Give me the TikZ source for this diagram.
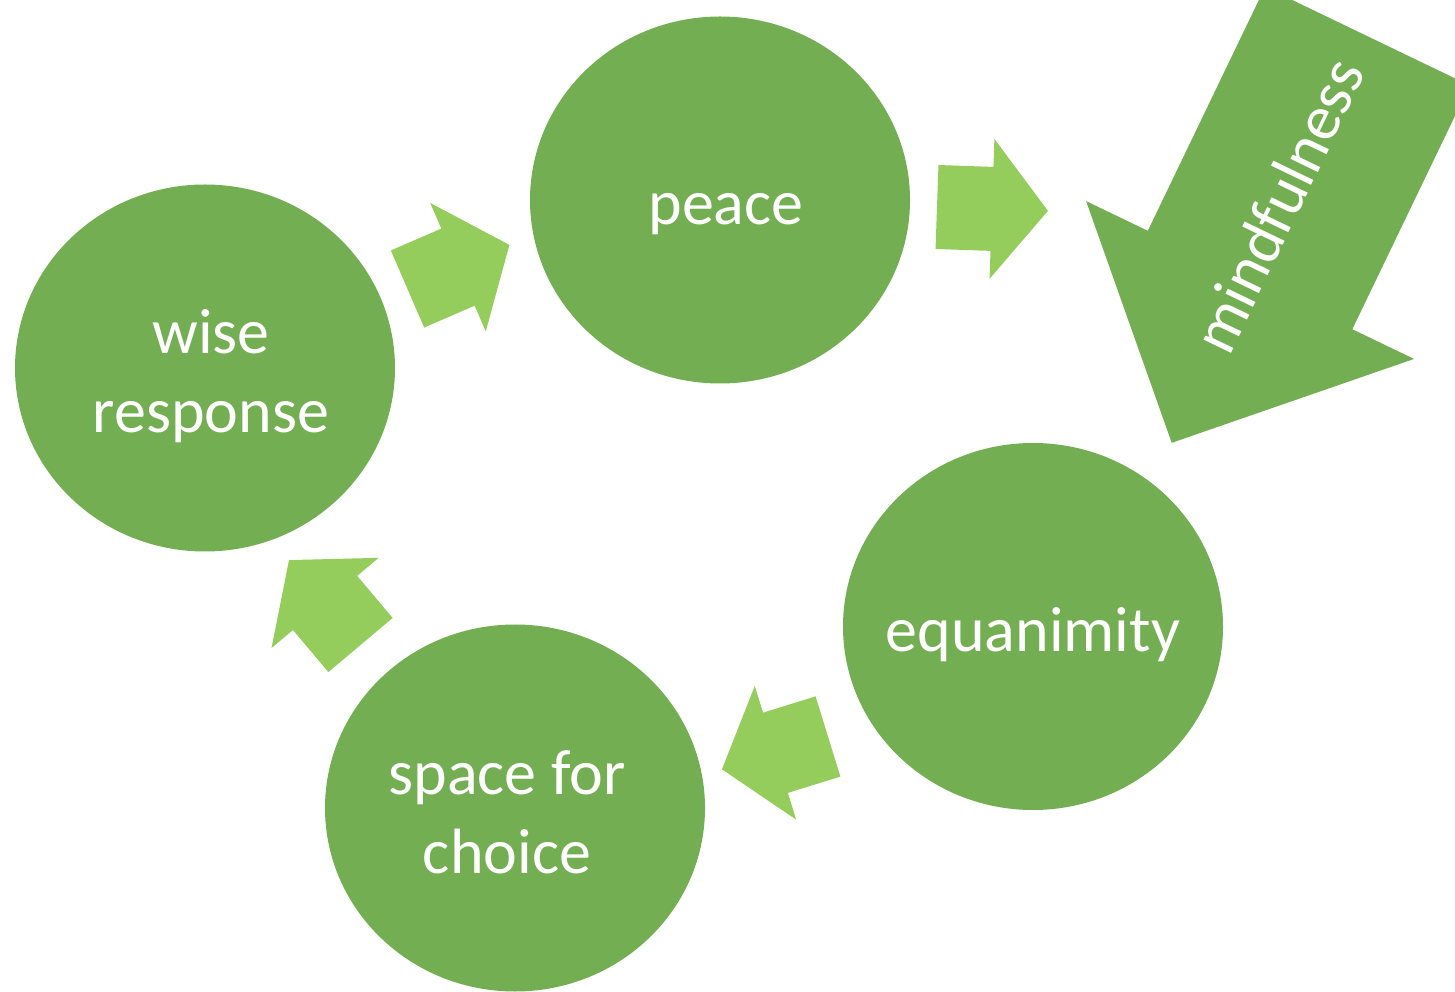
\documentclass[tikz,border=0pt]{standalone}
\usepackage{fontspec}
\setmainfont{Carlito}
\usetikzlibrary{shapes.geometric}
\definecolor{stageColor}{HTML}{74AE53}
\definecolor{stepColor}{HTML}{94CD5C}
\begin{document}
\begin{tikzpicture}[x=1pt,y=1pt,
  stage/.style={ellipse,fill=stageColor,inner sep=0pt,
    minimum width=380pt,minimum height=367pt},
  stagetext/.style={text=white,inner sep=0pt,align=center,
    font=\fontsize{64}{79}\selectfont},
  oneline/.style={text height=50pt,text depth=0pt},
  twoline/.style={text height=130pt,text depth=0pt},
  steparrow/.style={fill=stepColor}]
\useasboundingbox (0,0) rectangle (1455,991);
\clip (0,0) rectangle (1455,991);

% mindfulness arrow
\path[fill=stageColor,shift={(1367.4,954.8)},rotate=244.3] (0,113.5) -- (270.6,113.5) -- (270.6,182) -- (451.3,0) -- (270.6,-182) -- (270.6,-113.5) -- (0,-113.5) -- cycle;
\node[stagetext,rotate=64.3] (mindful) at (1278,786) {mindfulness};

% stages
\node[stage,label={[stagetext,twoline,xshift=6pt]center:wise\\response}] (wise) at (205,623) {};
\node[stage,label={[stagetext,oneline,xshift=6pt]center:peace}] (peace) at (720,791) {};
\node[stage,label={[stagetext,oneline]center:equanimity}] (equan) at (1033,364.5) {};
\node[stage,label={[stagetext,twoline,xshift=-8pt]center:space for\\choice}] (space) at (515,183) {};

% small arrows
\path[steparrow,shift={(407.5,702)},rotate=23.4] (0,42) -- (55,42) -- (55,70) -- (111,0) -- (55,-70) -- (55,-42) -- (0,-42) -- cycle;
\path[steparrow,shift={(937,784)},rotate=-2] (0,42) -- (55,42) -- (55,70) -- (111,0) -- (55,-70) -- (55,-42) -- (0,-42) -- cycle;
\path[steparrow,shift={(828,254.5)},rotate=197.2] (0,42) -- (55,42) -- (55,70) -- (111,0) -- (55,-70) -- (55,-42) -- (0,-42) -- cycle;
\path[steparrow,shift={(360.5,346)},rotate=130.1] (0,42) -- (55,42) -- (55,70) -- (111,0) -- (55,-70) -- (55,-42) -- (0,-42) -- cycle;
\end{tikzpicture}
\end{document}
